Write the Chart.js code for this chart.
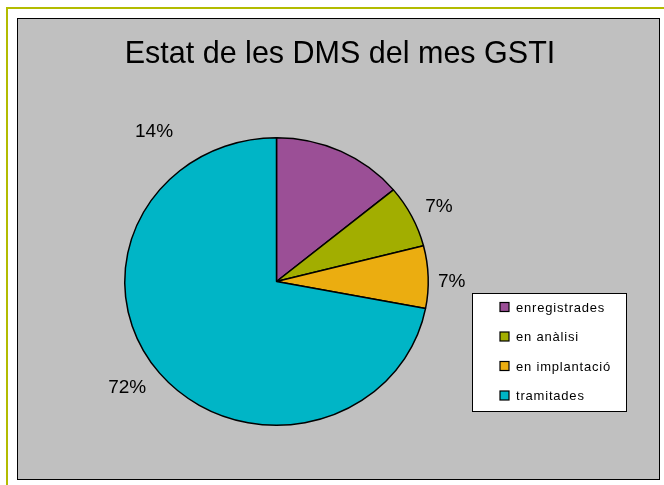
<!DOCTYPE html>
<html>
<head>
<meta charset="utf-8">
<script src="https://cdn.jsdelivr.net/npm/chart.js@4"></script>
<style>
  html, body { margin: 0; padding: 0; background: #fff; }
  #wrap { position: relative; width: 664px; height: 485px; overflow: hidden; }
  #frame { position: absolute; left: 6px; top: 7px; width: 700px; height: 500px;
           border-top: 2px solid #B3BC00; border-left: 2px solid #B3BC00; }
  #box { position: absolute; left: 17px; top: 18px; width: 641px; height: 460px;
         background: #C0C0C0; border: 1px solid #000; }
  canvas { position: absolute; left: 0; top: 0; }
</style>
</head>
<body>
<div id="wrap">
  <div id="frame"></div>
  <div id="box"></div>
  <canvas id="pie" width="664" height="485"></canvas>
</div>
<script>
// dades del grafic
var titol = "Estat de les DMS del mes GSTI";
var estats = ["enregistrades", "en anàlisi", "en implantació", "tramitades"];
var percentatges = [14, 7, 7, 72];
var colors = ["#9B4F96", "#A2AE00", "#EBAD10", "#00B5C6"];

// el pastis d'Excel surt una mica aixafat
var aixafat = 289 / 305;

var excelLook = {
  id: 'excelLook',
  beforeDatasetsDraw: function(chart) {
    var arc = chart.getDatasetMeta(0).data[0];
    var ctx = chart.ctx;
    ctx.save();
    ctx.translate(arc.x, arc.y);
    ctx.scale(1, aixafat);
    ctx.translate(-arc.x, -arc.y);
  },
  afterDatasetsDraw: function(chart) {
    chart.ctx.restore();
  },
  afterDraw: function(chart, args, opts) {
    var ctx = chart.ctx;
    var meta = chart.getDatasetMeta(0);
    ctx.save();

    // titol
    ctx.fillStyle = '#000';
    ctx.font = '30.5px "Liberation Sans", Arial, sans-serif';
    ctx.textAlign = 'center';
    ctx.textBaseline = 'alphabetic';
    ctx.fillText(titol, 340, 63);

    // etiquetes fora del pastis
    ctx.font = '19px "Liberation Sans", Arial, sans-serif';
    ctx.textBaseline = 'middle';
    meta.data.forEach(function(arc, i) {
      var mid = (arc.startAngle + arc.endAngle) / 2 + (opts.shift[i] || 0) * Math.PI / 180;
      var r = arc.outerRadius + (opts.dist[i] || 30);
      var x = arc.x + Math.cos(mid) * r;
      var y = arc.y + Math.sin(mid) * r * aixafat;
      ctx.fillText(percentatges[i] + '%', x, y);
    });

    // llegenda
    var lx = 472, ly = 293, lw = 154, lh = 118;
    ctx.fillStyle = '#fff';
    ctx.fillRect(lx, ly, lw, lh);
    ctx.strokeStyle = '#000';
    ctx.lineWidth = 1;
    ctx.strokeRect(lx + 0.5, ly + 0.5, lw, lh);
    ctx.font = '13px "Liberation Sans", Arial, sans-serif';
    ctx.letterSpacing = '0.8px';
    ctx.textAlign = 'left';
    estats.forEach(function(e, i) {
      var cy = 307 + i * 29.5;
      ctx.fillStyle = colors[i];
      ctx.fillRect(500, cy - 4.5, 9, 9);
      ctx.strokeStyle = '#000';
      ctx.lineWidth = 1.2;
      ctx.strokeRect(500, cy - 4.5, 9, 9);
      ctx.fillStyle = '#000';
      ctx.fillText(e, 516, cy + 1);
    });
    ctx.restore();
  }
};

var chart = new Chart(document.getElementById('pie').getContext('2d'), {
  type: 'pie',
  data: {
    labels: estats,
    datasets: [{
      data: percentatges,
      backgroundColor: colors,
      borderColor: '#000',
      borderWidth: 1.5
    }]
  },
  options: {
    responsive: false,
    animation: false,
    layout: { padding: { left: 124, top: 129, right: 235, bottom: 51 } },
    plugins: {
      legend: { display: false },
      tooltip: { enabled: false },
      excelLook: {
        shift: { 0: -63, 1: 1, 2: 2, 3: 2.7 },
        dist: { 0: 48, 1: 29, 2: 23.5, 3: 35 }
      }
    }
  },
  plugins: [excelLook]
});
</script>
</body>
</html>
